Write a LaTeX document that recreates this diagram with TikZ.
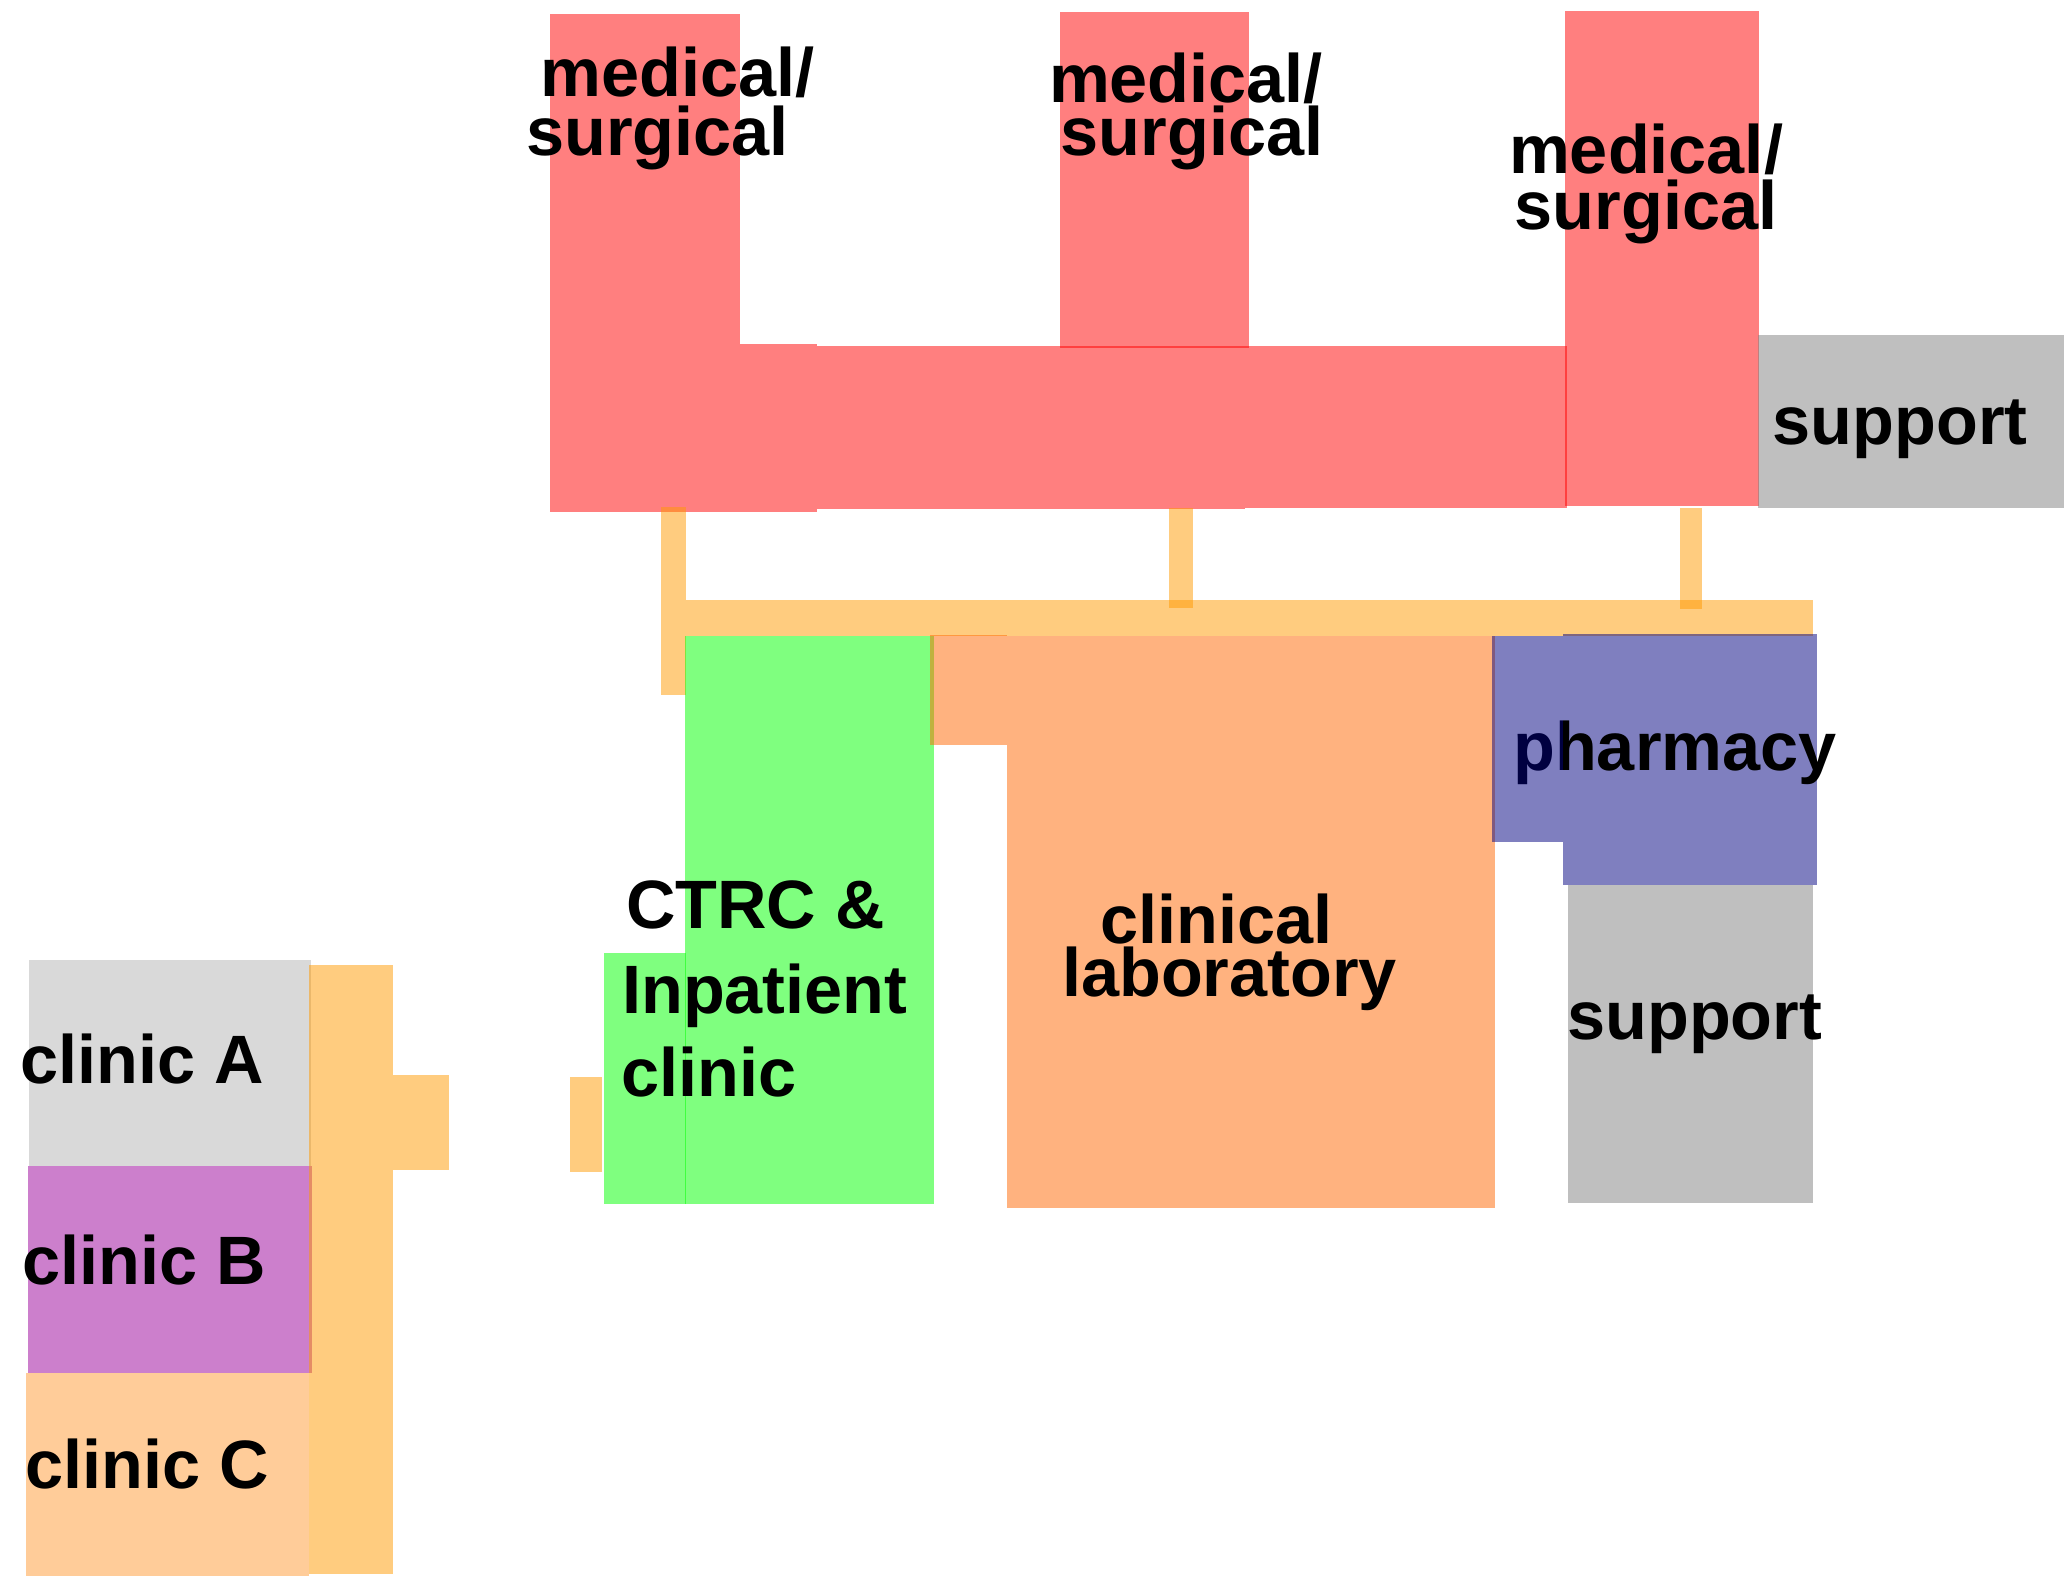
\documentclass[tikz,border=0pt]{standalone}
\usepackage{fontspec}
\setmainfont{Liberation Sans}
\definecolor{redbase}{HTML}{FF0000}
\definecolor{orngbase}{HTML}{FF9900}
\definecolor{grnbase}{HTML}{00FF00}
\definecolor{labbase}{HTML}{FF6600}
\definecolor{purbase}{HTML}{000080}
\definecolor{graybase}{HTML}{808080}
\definecolor{clabase}{HTML}{B3B3B3}
\definecolor{clbbase}{HTML}{990099}
\definecolor{clcbase}{HTML}{FF9933}
\begin{document}
\begin{tikzpicture}[x=0.5pt,y=-0.5pt,
  room/.style={fill=#1,fill opacity=0.5},
  lbl/.style={font=\fontsize{26}{26}\selectfont\bfseries,inner sep=0pt,anchor=base,text=black}]
\useasboundingbox (0,0) rectangle (1568,1197);
% medical/surgical wing
\fill[room=redbase] (418,11) rectangle (562,389);
\fill[room=redbase] (562,261) rectangle (621,389);
\fill[room=redbase] (621,263) rectangle (946,387);
\fill[room=redbase] (946,263) rectangle (1190.5,386);
\fill[room=redbase] (805,9) rectangle (949,264);
\fill[room=redbase] (1189,8) rectangle (1336,384.5);
\fill[room=graybase] (1335.5,254.5) rectangle (1568,386);
% corridors
\fill[room=orngbase] (521,456) rectangle (1377,483);
\fill[room=orngbase] (502,385) rectangle (521.5,528);
\fill[room=orngbase] (888,386) rectangle (906,462);
\fill[room=orngbase] (1276,386) rectangle (1293,463);
% CTRC
\fill[room=grnbase] (520.5,483) rectangle (709.5,915);
\fill[room=grnbase] (459,724) rectangle (521.5,915);
% lab
\fill[room=labbase] (706.5,482.5) rectangle (765,566);
\fill[room=labbase] (765,483) rectangle (1136,918);
% pharmacy and support
\fill[room=purbase] (1187.2,482) rectangle (1380,672);
\fill[room=graybase] (1191,672) rectangle (1377,914);
% clinics
\fill[room=clabase] (22,729) rectangle (236.5,886);
\fill[room=clbbase] (21.4,886) rectangle (236.7,1043);
\fill[room=clcbase] (19.7,1043) rectangle (235,1197);
\fill[room=orngbase] (235,733) rectangle (298.5,1196);
\fill[room=orngbase] (298.5,817) rectangle (341,889);
\fill[room=orngbase] (433,818) rectangle (457,890);
% labels
\node[lbl] (ms1a) at (515,73) {medical/};
\node[lbl] (ms1b) at (499.5,118) {surgical};
\node[lbl] (ms2a) at (901,77.6) {medical/};
\node[lbl] (ms2b) at (905.5,118) {surgical};
\node[lbl] (ms3a) at (1250.5,132) {medical/};
\node[lbl] (ms3b) at (1250.5,174) {surgical};
\node[lbl] (sup1) at (1443.5,338) {support};
\node[lbl] (ctrca) at (574,705) {CTRC \&};
\node[lbl] (ctrcb) at (581,770) {Inpatient};
\node[lbl] (ctrcc) at (538.5,833) {clinic};
\node[lbl] (laba) at (924,717) {clinical};
\node[lbl] (labb) at (934,757) {laboratory};
\node[lbl] (phar) at (1272.5,585) {pharmacy};
\node[lbl] (sup2) at (1287.5,790) {support};
\node[lbl] (cla) at (108,823) {clinic A};
\node[lbl] (clb) at (109.5,975.5) {clinic B};
\node[lbl] (clc) at (112,1131) {clinic C};
% small pharmacy room drawn over the text
\fill[room=purbase] (1133.5,483) rectangle (1187.4,640);
\end{tikzpicture}
\end{document}
